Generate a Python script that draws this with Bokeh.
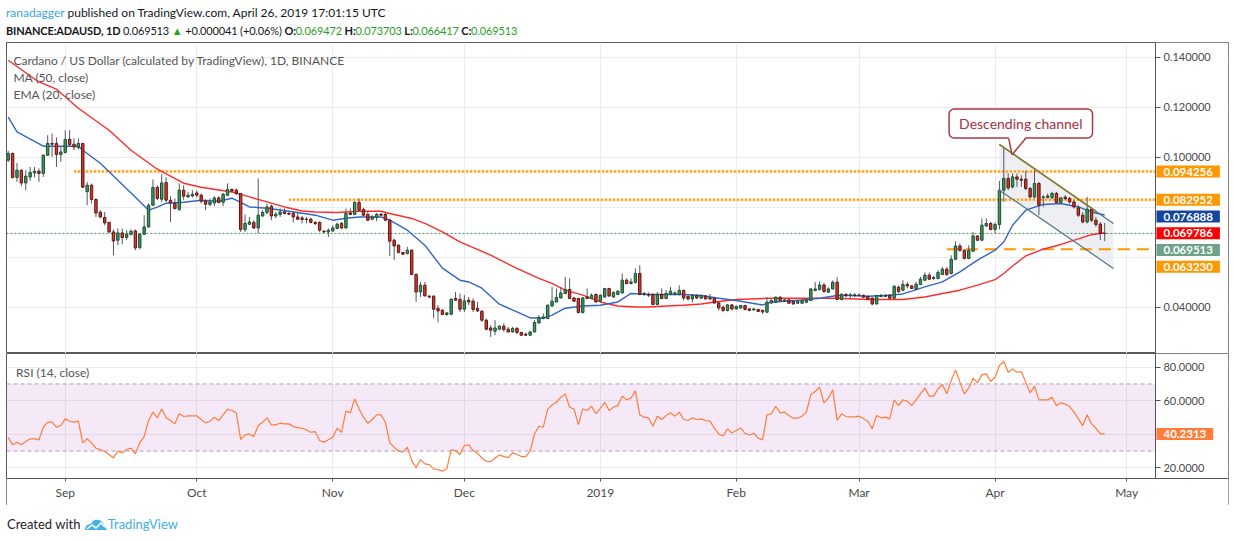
import pandas as pd
from bokeh.plotting import figure
from bokeh.layouts import column
from bokeh.models import (ColumnDataSource, Range1d, FixedTicker, PrintfTickFormatter,
                          BoxAnnotation, Label, Div)
from bokeh.embed import file_html
from bokeh.resources import INLINE

# ---- daily candles, BINANCE ADA/USD, starting 2018-08-19 ----
start_date = "2018-08-19"
opens = [
    0.0988, 0.1015, 0.0919, 0.0948, 0.0897, 0.0921, 0.0937, 0.0944, 0.0935, 0.1008,
    0.1055, 0.1055, 0.1011, 0.1019, 0.1072, 0.1052, 0.1039, 0.1055, 0.0862, 0.0888,
    0.0831, 0.0780, 0.0759, 0.0739, 0.0701, 0.0668, 0.0697, 0.0679, 0.0691, 0.0705,
    0.0639, 0.0692, 0.0721, 0.0808, 0.0879, 0.0832, 0.0899, 0.0828, 0.0815, 0.0791,
    0.0868, 0.0841, 0.0845, 0.0857, 0.0848, 0.0825, 0.0811, 0.0817, 0.0837, 0.0820,
    0.0848, 0.0871, 0.0868, 0.0855, 0.0711, 0.0732, 0.0739, 0.0717, 0.0765, 0.0779,
    0.0804, 0.0765, 0.0771, 0.0781, 0.0775, 0.0775, 0.0761, 0.0757, 0.0752, 0.0752,
    0.0739, 0.0739, 0.0704, 0.0701, 0.0705, 0.0715, 0.0735, 0.0717, 0.0777, 0.0771,
    0.0819, 0.0791, 0.0771, 0.0752, 0.0759, 0.0772, 0.0771, 0.0748, 0.0668, 0.0648,
    0.0619, 0.0615, 0.0628, 0.0531, 0.0461, 0.0488, 0.0444, 0.0444, 0.0395, 0.0388,
    0.0371, 0.0372, 0.0435, 0.0431, 0.0392, 0.0428, 0.0424, 0.0395, 0.0384, 0.0348,
    0.0317, 0.0304, 0.0312, 0.0324, 0.0312, 0.0301, 0.0315, 0.0299, 0.0292, 0.0288,
    0.0301, 0.0337, 0.0355, 0.0355, 0.0405, 0.0421, 0.0437, 0.0455, 0.0471, 0.0437,
    0.0435, 0.0379, 0.0441, 0.0435, 0.0451, 0.0424, 0.0441, 0.0475, 0.0441, 0.0451,
    0.0457, 0.0508, 0.0495, 0.0499, 0.0535, 0.0451, 0.0451, 0.0451, 0.0411, 0.0451,
    0.0435, 0.0451, 0.0452, 0.0451, 0.0467, 0.0443, 0.0433, 0.0447, 0.0436, 0.0445,
    0.0437, 0.0436, 0.0417, 0.0400, 0.0387, 0.0409, 0.0393, 0.0397, 0.0407, 0.0393,
    0.0389, 0.0391, 0.0387, 0.0380, 0.0417, 0.0420, 0.0440, 0.0425, 0.0429, 0.0423,
    0.0416, 0.0416, 0.0420, 0.0427, 0.0467, 0.0471, 0.0489, 0.0460, 0.0473, 0.0500,
    0.0431, 0.0451, 0.0447, 0.0449, 0.0447, 0.0447, 0.0443, 0.0436, 0.0413, 0.0443,
    0.0443, 0.0447, 0.0436, 0.0480, 0.0468, 0.0491, 0.0485, 0.0472, 0.0491, 0.0508,
    0.0528, 0.0515, 0.0515, 0.0531, 0.0552, 0.0535, 0.0592, 0.0645, 0.0628, 0.0595,
    0.0624, 0.0685, 0.0668, 0.0725, 0.0735, 0.0711, 0.0731, 0.0868, 0.0915, 0.0881,
    0.0921, 0.0912, 0.0912, 0.0875, 0.0841, 0.0895, 0.0839, 0.0839, 0.0839, 0.0855,
    0.0819, 0.0840, 0.0835, 0.0821, 0.0797, 0.0768, 0.0741, 0.0792, 0.0748, 0.0732, 0.069472,
]
highs = [
    0.1025, 0.1018, 0.0977, 0.0951, 0.0948, 0.0961, 0.0961, 0.0955, 0.1011, 0.1088,
    0.1095, 0.1079, 0.1044, 0.1108, 0.1108, 0.1075, 0.1075, 0.1057, 0.0901, 0.0895,
    0.0835, 0.0788, 0.0781, 0.0741, 0.0711, 0.0715, 0.0715, 0.0708, 0.0711, 0.0711,
    0.0695, 0.0768, 0.0815, 0.0911, 0.0888, 0.0932, 0.0919, 0.0844, 0.0835, 0.0895,
    0.0888, 0.0861, 0.0868, 0.0868, 0.0855, 0.0831, 0.0835, 0.0844, 0.0844, 0.0857,
    0.0895, 0.0875, 0.0875, 0.0857, 0.0771, 0.0761, 0.0748, 0.0915, 0.0788, 0.0815,
    0.0811, 0.0781, 0.0795, 0.0795, 0.0781, 0.0784, 0.0781, 0.0765, 0.0761, 0.0757,
    0.0744, 0.0744, 0.0708, 0.0715, 0.0728, 0.0739, 0.0741, 0.0795, 0.0795, 0.0824,
    0.0835, 0.0797, 0.0781, 0.0768, 0.0777, 0.0777, 0.0779, 0.0755, 0.0675, 0.0651,
    0.0621, 0.0641, 0.0631, 0.0535, 0.0501, 0.0501, 0.0448, 0.0448, 0.0408, 0.0392,
    0.0381, 0.0435, 0.0461, 0.0455, 0.0448, 0.0441, 0.0435, 0.0421, 0.0388, 0.0355,
    0.0328, 0.0348, 0.0328, 0.0335, 0.0321, 0.0321, 0.0321, 0.0301, 0.0299, 0.0304,
    0.0348, 0.0368, 0.0375, 0.0411, 0.0481, 0.0475, 0.0481, 0.0521, 0.0515, 0.0441,
    0.0437, 0.0441, 0.0475, 0.0455, 0.0455, 0.0451, 0.0477, 0.0477, 0.0464, 0.0468,
    0.0535, 0.0515, 0.0515, 0.0555, 0.0568, 0.0461, 0.0459, 0.0455, 0.0461, 0.0475,
    0.0468, 0.0481, 0.0464, 0.0487, 0.0471, 0.0447, 0.0453, 0.0451, 0.0451, 0.0447,
    0.0453, 0.0440, 0.0420, 0.0407, 0.0413, 0.0413, 0.0407, 0.0409, 0.0409, 0.0396,
    0.0396, 0.0393, 0.0391, 0.0440, 0.0431, 0.0443, 0.0443, 0.0433, 0.0433, 0.0427,
    0.0427, 0.0431, 0.0433, 0.0476, 0.0500, 0.0503, 0.0497, 0.0480, 0.0507, 0.0520,
    0.0457, 0.0457, 0.0457, 0.0457, 0.0455, 0.0451, 0.0447, 0.0440, 0.0449, 0.0453,
    0.0453, 0.0453, 0.0487, 0.0487, 0.0508, 0.0501, 0.0488, 0.0501, 0.0521, 0.0539,
    0.0539, 0.0525, 0.0548, 0.0561, 0.0561, 0.0608, 0.0664, 0.0655, 0.0631, 0.0648,
    0.0701, 0.0688, 0.0755, 0.0755, 0.0741, 0.0739, 0.0905, 0.1041, 0.0935, 0.0935,
    0.0935, 0.0928, 0.0944, 0.0881, 0.0955, 0.0901, 0.0848, 0.0855, 0.0861, 0.0861,
    0.0841, 0.0848, 0.0841, 0.0828, 0.0808, 0.0781, 0.0841, 0.0797, 0.0761, 0.0741, 0.073703,
]
lows = [
    0.0980, 0.0915, 0.0901, 0.0884, 0.0868, 0.0905, 0.0919, 0.0901, 0.0921, 0.1004,
    0.1001, 0.0961, 0.0981, 0.1015, 0.1044, 0.1028, 0.1031, 0.0878, 0.0808, 0.0815,
    0.0761, 0.0755, 0.0728, 0.0697, 0.0608, 0.0648, 0.0652, 0.0668, 0.0687, 0.0628,
    0.0631, 0.0688, 0.0719, 0.0805, 0.0828, 0.0821, 0.0821, 0.0741, 0.0791, 0.0785,
    0.0828, 0.0839, 0.0839, 0.0839, 0.0815, 0.0788, 0.0804, 0.0804, 0.0815, 0.0804,
    0.0844, 0.0861, 0.0848, 0.0701, 0.0701, 0.0728, 0.0712, 0.0695, 0.0761, 0.0771,
    0.0748, 0.0755, 0.0761, 0.0771, 0.0768, 0.0739, 0.0748, 0.0735, 0.0735, 0.0735,
    0.0728, 0.0701, 0.0697, 0.0681, 0.0701, 0.0712, 0.0712, 0.0715, 0.0768, 0.0768,
    0.0784, 0.0765, 0.0744, 0.0748, 0.0744, 0.0764, 0.0744, 0.0605, 0.0588, 0.0615,
    0.0608, 0.0611, 0.0528, 0.0421, 0.0441, 0.0444, 0.0435, 0.0355, 0.0339, 0.0368,
    0.0365, 0.0368, 0.0425, 0.0381, 0.0381, 0.0408, 0.0381, 0.0381, 0.0341, 0.0308,
    0.0281, 0.0288, 0.0308, 0.0301, 0.0299, 0.0299, 0.0292, 0.0285, 0.0285, 0.0285,
    0.0299, 0.0335, 0.0352, 0.0352, 0.0401, 0.0419, 0.0435, 0.0451, 0.0432, 0.0421,
    0.0375, 0.0375, 0.0432, 0.0432, 0.0419, 0.0421, 0.0437, 0.0441, 0.0437, 0.0448,
    0.0455, 0.0491, 0.0491, 0.0495, 0.0448, 0.0445, 0.0441, 0.0408, 0.0408, 0.0432,
    0.0432, 0.0448, 0.0447, 0.0447, 0.0427, 0.0427, 0.0420, 0.0433, 0.0433, 0.0431,
    0.0429, 0.0413, 0.0387, 0.0380, 0.0383, 0.0387, 0.0391, 0.0393, 0.0387, 0.0384,
    0.0387, 0.0380, 0.0373, 0.0377, 0.0413, 0.0417, 0.0424, 0.0423, 0.0413, 0.0411,
    0.0413, 0.0413, 0.0416, 0.0425, 0.0463, 0.0467, 0.0457, 0.0457, 0.0471, 0.0427,
    0.0427, 0.0440, 0.0433, 0.0440, 0.0443, 0.0436, 0.0431, 0.0407, 0.0411, 0.0440,
    0.0440, 0.0431, 0.0433, 0.0457, 0.0464, 0.0475, 0.0472, 0.0468, 0.0488, 0.0504,
    0.0508, 0.0508, 0.0511, 0.0528, 0.0525, 0.0531, 0.0588, 0.0621, 0.0592, 0.0592,
    0.0621, 0.0664, 0.0664, 0.0721, 0.0708, 0.0695, 0.0711, 0.0821, 0.0868, 0.0875,
    0.0881, 0.0881, 0.0868, 0.0835, 0.0835, 0.0768, 0.0801, 0.0835, 0.0832, 0.0815,
    0.0815, 0.0828, 0.0815, 0.0795, 0.0761, 0.0735, 0.0735, 0.0741, 0.0721, 0.0668, 0.066417,
]
closes = [
    0.1015, 0.0919, 0.0948, 0.0897, 0.0924, 0.0939, 0.0944, 0.0935, 0.1008, 0.1055,
    0.1052, 0.1011, 0.1021, 0.1071, 0.1051, 0.1041, 0.1055, 0.0880, 0.0888, 0.0831,
    0.0777, 0.0761, 0.0737, 0.0701, 0.0665, 0.0697, 0.0679, 0.0692, 0.0704, 0.0637,
    0.0692, 0.0721, 0.0808, 0.0879, 0.0835, 0.0897, 0.0828, 0.0817, 0.0795, 0.0868,
    0.0844, 0.0848, 0.0852, 0.0848, 0.0824, 0.0812, 0.0821, 0.0837, 0.0819, 0.0852,
    0.0871, 0.0865, 0.0855, 0.0711, 0.0735, 0.0741, 0.0717, 0.0768, 0.0779, 0.0801,
    0.0765, 0.0772, 0.0781, 0.0775, 0.0772, 0.0761, 0.0752, 0.0751, 0.0751, 0.0739,
    0.0735, 0.0708, 0.0701, 0.0708, 0.0717, 0.0732, 0.0717, 0.0775, 0.0771, 0.0819,
    0.0788, 0.0768, 0.0748, 0.0761, 0.0771, 0.0768, 0.0748, 0.0664, 0.0645, 0.0619,
    0.0612, 0.0628, 0.0531, 0.0461, 0.0488, 0.0445, 0.0441, 0.0392, 0.0385, 0.0371,
    0.0377, 0.0432, 0.0428, 0.0392, 0.0425, 0.0421, 0.0391, 0.0385, 0.0348, 0.0312,
    0.0308, 0.0317, 0.0324, 0.0311, 0.0301, 0.0315, 0.0299, 0.0288, 0.0288, 0.0301,
    0.0339, 0.0359, 0.0361, 0.0408, 0.0424, 0.0439, 0.0457, 0.0471, 0.0435, 0.0424,
    0.0379, 0.0437, 0.0435, 0.0448, 0.0421, 0.0448, 0.0475, 0.0445, 0.0459, 0.0464,
    0.0508, 0.0495, 0.0501, 0.0535, 0.0451, 0.0455, 0.0448, 0.0411, 0.0451, 0.0435,
    0.0455, 0.0464, 0.0457, 0.0467, 0.0437, 0.0433, 0.0447, 0.0437, 0.0447, 0.0433,
    0.0433, 0.0417, 0.0397, 0.0387, 0.0409, 0.0393, 0.0403, 0.0407, 0.0391, 0.0387,
    0.0393, 0.0383, 0.0381, 0.0420, 0.0427, 0.0440, 0.0427, 0.0429, 0.0416, 0.0413,
    0.0423, 0.0427, 0.0429, 0.0473, 0.0473, 0.0489, 0.0463, 0.0473, 0.0500, 0.0431,
    0.0451, 0.0447, 0.0449, 0.0447, 0.0449, 0.0440, 0.0433, 0.0413, 0.0447, 0.0447,
    0.0447, 0.0436, 0.0484, 0.0463, 0.0491, 0.0485, 0.0475, 0.0492, 0.0512, 0.0528,
    0.0512, 0.0519, 0.0539, 0.0552, 0.0531, 0.0592, 0.0645, 0.0628, 0.0595, 0.0627,
    0.0685, 0.0668, 0.0728, 0.0735, 0.0711, 0.0731, 0.0868, 0.0915, 0.0877, 0.0921,
    0.0912, 0.0908, 0.0875, 0.0841, 0.0895, 0.0808, 0.0841, 0.0845, 0.0855, 0.0819,
    0.0837, 0.0835, 0.0821, 0.0801, 0.0768, 0.0741, 0.0792, 0.0748, 0.0731, 0.0695, 0.069513,
]

# RSI (14, close), one value per candle
rsi_values = [
    38.2, 33.7, 35.3, 33.7, 35.7, 37.3, 37.3, 36.7, 44.2, 47.2,
    47.2, 44.2, 45.2, 49.2, 47.6, 47.2, 47.8, 34.9, 37.3, 34.9,
    31.7, 30.9, 29.7, 27.9, 25.9, 29.9, 28.9, 30.9, 31.7, 28.3,
    34.9, 38.6, 48.2, 53.2, 49.8, 55.1, 49.8, 48.2, 46.2, 52.2,
    50.6, 51.0, 51.0, 51.0, 48.8, 46.8, 47.8, 50.2, 48.2, 51.6,
    54.8, 54.2, 52.8, 36.9, 39.6, 40.2, 38.6, 45.2, 47.2, 49.8,
    45.6, 45.6, 46.6, 46.2, 46.2, 44.6, 44.0, 43.6, 42.6, 41.2,
    41.6, 36.3, 35.3, 36.7, 38.2, 43.6, 41.2, 53.8, 52.8, 61.1,
    55.1, 50.2, 46.6, 48.8, 51.6, 51.6, 47.2, 34.9, 32.3, 29.9,
    29.3, 32.3, 24.3, 20.0, 24.9, 22.3, 21.9, 19.4, 19.0, 18.0,
    19.4, 30.7, 30.3, 27.9, 33.3, 33.7, 30.3, 28.7, 25.9, 23.9,
    23.7, 25.7, 27.7, 26.7, 26.1, 28.9, 27.9, 26.7, 26.7, 29.9,
    40.2, 44.8, 44.2, 54.8, 57.5, 59.1, 62.1, 64.1, 56.1, 55.1,
    45.8, 55.1, 54.2, 56.7, 52.2, 55.5, 59.1, 54.2, 56.1, 57.1,
    62.7, 60.5, 61.5, 65.9, 51.6, 50.2, 49.8, 44.8, 50.8, 48.8,
    51.2, 52.8, 50.8, 53.2, 48.8, 48.2, 49.8, 48.8, 49.2, 48.2,
    47.8, 43.6, 40.2, 39.0, 43.2, 40.8, 42.2, 43.8, 40.6, 39.6,
    40.6, 37.7, 36.7, 51.6, 52.2, 56.7, 52.8, 53.2, 51.2, 49.6,
    49.6, 50.8, 53.2, 63.7, 65.5, 68.1, 58.7, 61.5, 66.5, 48.2,
    52.2, 50.6, 50.4, 50.4, 50.8, 49.2, 47.8, 43.2, 51.2, 49.8,
    50.2, 49.2, 60.5, 57.1, 60.5, 59.7, 57.1, 60.5, 64.1, 67.5,
    62.7, 62.7, 67.1, 69.7, 64.1, 72.0, 78.4, 71.1, 64.1, 67.5,
    73.4, 70.7, 75.4, 76.0, 71.5, 74.0, 81.0, 83.4, 77.0, 79.0,
    77.0, 77.4, 71.1, 64.7, 68.7, 60.5, 60.5, 60.5, 62.1, 57.1,
    58.7, 58.1, 56.5, 53.2, 49.2, 45.2, 51.6, 46.2, 43.6, 40.2, 40.2313,
]

# moving averages
ma50_dates = [
    "2018-08-19", "2018-08-26", "2018-08-30", "2018-09-04", "2018-09-11", "2018-09-16",
    "2018-09-22", "2018-09-28", "2018-10-02", "2018-10-09", "2018-10-13", "2018-10-17",
    "2018-10-21", "2018-10-25", "2018-10-28", "2018-11-02", "2018-11-07", "2018-11-12",
    "2018-11-14", "2018-11-19", "2018-11-22", "2018-11-26", "2018-11-30", "2018-12-07",
    "2018-12-13", "2018-12-18", "2018-12-21", "2018-12-24", "2018-12-28", "2019-01-01",
    "2019-01-05", "2019-01-09", "2019-01-12", "2019-01-16", "2019-01-20", "2019-01-24",
    "2019-01-28", "2019-02-01", "2019-02-09", "2019-02-24", "2019-03-03", "2019-03-11",
    "2019-03-16", "2019-03-20", "2019-03-24", "2019-03-28", "2019-04-01", "2019-04-03",
    "2019-04-05", "2019-04-08", "2019-04-12", "2019-04-16", "2019-04-20", "2019-04-23",
    "2019-04-26",
]
ma50_values = [
    0.1388, 0.1301, 0.1272, 0.1196, 0.1108, 0.1028,
    0.0952, 0.0896, 0.0880, 0.0861, 0.0841, 0.0821,
    0.0801, 0.0785, 0.0781, 0.0779, 0.0784, 0.0784,
    0.0775, 0.0755, 0.0735, 0.0701, 0.0661, 0.0608,
    0.0555, 0.0515, 0.0495, 0.0468, 0.0448, 0.0421,
    0.0405, 0.0401, 0.0401, 0.0405, 0.0408, 0.0413,
    0.0423, 0.0431, 0.0436, 0.0436, 0.0431, 0.0431,
    0.0441, 0.0455, 0.0468, 0.0488, 0.0510, 0.0535,
    0.0565, 0.0605, 0.0632, 0.0651, 0.0673, 0.0690,
    0.069786,
]
ema20_dates = [
    "2018-08-19", "2018-08-21", "2018-08-27", "2018-08-31", "2018-09-04", "2018-09-05",
    "2018-09-09", "2018-09-13", "2018-09-17", "2018-09-20", "2018-09-22", "2018-09-24",
    "2018-09-28", "2018-10-02", "2018-10-06", "2018-10-09", "2018-10-11", "2018-10-13",
    "2018-10-17", "2018-10-22", "2018-10-28", "2018-11-01", "2018-11-04", "2018-11-07",
    "2018-11-12", "2018-11-14", "2018-11-18", "2018-11-22", "2018-11-26", "2018-11-30",
    "2018-12-02", "2018-12-05", "2018-12-09", "2018-12-13", "2018-12-16", "2018-12-19",
    "2018-12-21", "2018-12-24", "2018-12-28", "2019-01-01", "2019-01-05", "2019-01-08",
    "2019-01-12", "2019-01-20", "2019-01-24", "2019-01-28", "2019-02-01", "2019-02-07",
    "2019-02-09", "2019-02-16", "2019-02-20", "2019-02-24", "2019-02-27", "2019-03-03",
    "2019-03-07", "2019-03-11", "2019-03-13", "2019-03-16", "2019-03-20", "2019-03-24",
    "2019-03-28", "2019-04-01", "2019-04-03", "2019-04-05", "2019-04-08", "2019-04-12",
    "2019-04-16", "2019-04-20", "2019-04-23", "2019-04-26",
]
ema20_values = [
    0.1160, 0.1101, 0.1044, 0.1044, 0.1044, 0.1028,
    0.0976, 0.0908, 0.0840, 0.0788, 0.0800, 0.0816,
    0.0820, 0.0828, 0.0824, 0.0836, 0.0819, 0.0801,
    0.0796, 0.0784, 0.0768, 0.0748, 0.0756, 0.0761,
    0.0761, 0.0748, 0.0708, 0.0648, 0.0556, 0.0508,
    0.0501, 0.0476, 0.0412, 0.0381, 0.0357, 0.0357,
    0.0368, 0.0396, 0.0405, 0.0408, 0.0421, 0.0455,
    0.0451, 0.0451, 0.0447, 0.0436, 0.0427, 0.0409,
    0.0420, 0.0429, 0.0436, 0.0447, 0.0447, 0.0444,
    0.0447, 0.0453, 0.0464, 0.0481, 0.0501, 0.0541,
    0.0588, 0.0628, 0.0661, 0.0728, 0.0788, 0.0811,
    0.0815, 0.0801, 0.0781, 0.076888,
]

month_ticks = ["2018-09-01", "2018-10-01", "2018-11-01", "2018-12-01", "2019-01-01",
               "2019-02-01", "2019-03-01", "2019-04-01", "2019-05-01"]
month_labels = ["Sep", "Oct", "Nov", "Dec", "2019", "Feb", "Mar", "Apr", "May"]
price_ticks = [0.04, 0.10, 0.12, 0.14]
price_grid = [0.04, 0.06, 0.08, 0.10, 0.12, 0.14]
rsi_ticks = [20, 60, 80]
rsi_grid = [20, 40, 60, 80]
rsi_band = (30, 70)

# drawings on the chart
dotted_levels = [0.094256, 0.082952]
dotted_from = ["2018-09-03", "2018-10-22"]
dashed_level = 0.063230
dashed_from = "2019-03-21"
channel_dates = ["2019-04-02", "2019-04-28"]
channel_upper = [0.1051, 0.0735]
channel_lower = [0.0868, 0.0555]
trend_dates = ["2019-04-02", "2019-04-24"]
trend_values = [0.1051, 0.0784]
callout_text = "Descending channel"
callout_at = ("2019-04-06 21:00", 0.1135)
pointer_dates = ["2019-04-04 03:00", "2019-04-07 22:00", "2019-04-04 21:00"]
pointer_values = [0.1081, 0.1081, 0.1010]
pointer_base = 0.1074

# ---- layout constants ----
W = 1234
FONT = "Lato"
t0 = pd.Timestamp(start_date)
x_start = t0 - pd.Timedelta(days=0.39)
x_axis_pos = t0 + pd.Timedelta(days=261.58)   # where the price scale sits
x_end = t0 + pd.Timedelta(days=278.23)
axis_ms = float(x_axis_pos.value // 10**6)
month_ms = [pd.Timestamp(m).value // 10**6 for m in month_ticks]
DAY = 24 * 3600 * 1000
time_axis_at = 13.8   # RSI value where the time axis line sits

dates = pd.date_range(start_date, periods=len(closes), freq="D")
df = pd.DataFrame(dict(date=dates, open=opens, high=highs, low=lows, close=closes))
up = df[df.close >= df.open]
dn = df[df.close < df.open]


def style_axis(ax, size="11px", tick_out=5):
    ax.axis_line_color = "#555555"
    ax.major_tick_line_color = "#555555"
    ax.minor_tick_line_color = None
    ax.major_tick_in = 0
    ax.major_tick_out = tick_out
    ax.major_label_text_font = FONT
    ax.major_label_text_font_size = size
    ax.major_label_text_color = "#4a4a4a"
    ax.major_label_standoff = 3


def tag(fig, y, text, color):
    fig.add_layout(Label(x=x_axis_pos, y=y, text=text, text_color="white", text_font=FONT,
                         text_font_size="11.5px", text_font_style="bold",
                         text_align="left", text_baseline="middle",
                         background_fill_color=color, padding=(7, 2), x_offset=1))


def white_out(fig, **kw):
    fig.add_layout(BoxAnnotation(fill_color="white", fill_alpha=1, line_alpha=0,
                                 level="underlay", **kw))


# ---- price pane ----
price = figure(width=W, height=311, x_axis_type="datetime", x_axis_location=None,
               y_axis_location="right", x_range=Range1d(x_start, x_end),
               y_range=Range1d(0.02148, 0.14588), output_backend="svg",
               toolbar_location=None, min_border_left=6, min_border_right=6,
               min_border_top=0, min_border_bottom=0)
price.outline_line_color = "#5a5a5a"
price.xgrid.ticker = FixedTicker(ticks=month_ms)
price.ygrid.ticker = FixedTicker(ticks=price_grid)
price.grid.grid_line_color = "#ebebeb"
price.yaxis.ticker = FixedTicker(ticks=price_ticks)
price.yaxis.formatter = PrintfTickFormatter(format="%.6f")
price.yaxis.fixed_location = axis_ms
style_axis(price.yaxis[0])
white_out(price, left=x_axis_pos)

price.patch(x=[pd.Timestamp(channel_dates[0]), pd.Timestamp(channel_dates[1]),
               pd.Timestamp(channel_dates[1]), pd.Timestamp(channel_dates[0])],
            y=[channel_upper[0], channel_upper[1], channel_lower[1], channel_lower[0]],
            fill_color="#e1e5ea", fill_alpha=0.6, line_color=None)

for lvl, frm in zip(dotted_levels, dotted_from):
    price.segment(x0=[pd.Timestamp(frm)], y0=[lvl], x1=[x_axis_pos], y1=[lvl],
                  line_color="#ffcf99", line_width=3.5, line_alpha=0.5)
    price.segment(x0=[pd.Timestamp(frm)], y0=[lvl], x1=[x_axis_pos], y1=[lvl],
                  line_color="#ff9800", line_width=2, line_dash="2 2")
price.segment(x0=[pd.Timestamp(dashed_from)], y0=[dashed_level], x1=[x_axis_pos],
              y1=[dashed_level], line_color="#ff9800", line_width=2, line_dash="12 7")
price.segment(x0=[x_start], y0=[closes[-1]], x1=[x_axis_pos], y1=[closes[-1]],
              line_color="#3f8f60", line_dash="2 2", line_width=1)

price.line(pd.to_datetime(ma50_dates), ma50_values, color="#ff2b2b", line_width=1.4)
price.line(pd.to_datetime(ema20_dates), ema20_values, color="#3266c6", line_width=1.4)

src = ColumnDataSource(df)
price.segment(x0="date", y0="high", x1="date", y1="low", source=src,
              line_color="#55585c", line_width=1)
price.vbar(x="date", width=0.55 * DAY, top="close", bottom="open",
           source=ColumnDataSource(up), fill_color="#3c9662", line_color="#1f4d33")
price.vbar(x="date", width=0.55 * DAY, top="open", bottom="close",
           source=ColumnDataSource(dn), fill_color="#d03a2e", line_color="#5e1512")

price.segment(x0=[pd.Timestamp(channel_dates[0])] * 2, y0=[channel_upper[0], channel_lower[0]],
              x1=[pd.Timestamp(channel_dates[1])] * 2, y1=[channel_upper[1], channel_lower[1]],
              line_color="#4d7682", line_width=1.2)
price.line(pd.to_datetime(trend_dates), trend_values, color="#8f7d2e", line_width=1.6)

price.add_layout(Label(x=pd.Timestamp(callout_at[0]), y=callout_at[1], text=callout_text,
                       text_align="center", text_baseline="middle", text_color="#a3323c",
                       text_font=FONT, text_font_size="14px",
                       background_fill_color="white", border_line_color="#a83a44",
                       border_line_width=1.5, border_radius=5, padding=(10, 6)))
ptr = price.patch(x=pd.to_datetime(pointer_dates), y=pointer_values,
                  fill_color="white", line_color=None)
ptr.level = "overlay"
ptr_edges = price.multi_line(
    xs=[[pd.Timestamp(pointer_dates[0]), pd.Timestamp(pointer_dates[2])],
        [pd.Timestamp(pointer_dates[1]), pd.Timestamp(pointer_dates[2])]],
    ys=[[pointer_base, pointer_values[2]], [pointer_base, pointer_values[2]]],
    line_color="#a83a44", line_width=1.5)
ptr_edges.level = "overlay"

legend_x = t0 + pd.Timedelta(days=1.2)
for txt, yv in zip(["Cardano / US Dollar (calculated by TradingView), 1D, BINANCE",
                    "MA (50, close)", "EMA (20, close)"], [0.13868, 0.13188, 0.12508]):
    price.add_layout(Label(x=legend_x, y=yv, text=txt, text_font=FONT, text_font_size="12px",
                           text_color="#555555", text_baseline="middle"))

tag_specs = [(0.094256, "#ff9800"), (0.082952, "#ff9800"), (0.076888, "#1446a0"),
             (0.069786, "#ff0000"), (0.069513, "#6da287"), (0.063230, "#ff9800")]
tag_h = 0.0067
prev = None
for v, c in sorted(tag_specs, key=lambda t: -t[0]):
    y = v if prev is None or prev - v >= tag_h else prev - tag_h
    tag(price, y, "%.6f" % v, c)
    prev = y

# ---- RSI pane ----
rsi = figure(width=W, height=152, x_axis_type="datetime", y_axis_location="right",
             x_range=price.x_range, y_range=Range1d(-2.48, 88.17), output_backend="svg",
             toolbar_location=None, min_border_left=6, min_border_right=6,
             min_border_top=0, min_border_bottom=0)
rsi.outline_line_color = "#5a5a5a"
rsi.xgrid.ticker = FixedTicker(ticks=month_ms)
rsi.ygrid.ticker = FixedTicker(ticks=rsi_grid)
rsi.grid.grid_line_color = "#ebebeb"
rsi.yaxis.ticker = FixedTicker(ticks=rsi_ticks)
rsi.yaxis.formatter = PrintfTickFormatter(format="%.4f")
rsi.yaxis.fixed_location = axis_ms
rsi.yaxis.bounds = (time_axis_at, 88.17)
style_axis(rsi.yaxis[0])
rsi.xaxis.ticker = FixedTicker(ticks=month_ms)
rsi.xaxis.major_label_overrides = {m: lab for m, lab in zip(month_ms, month_labels)}
rsi.xaxis.fixed_location = time_axis_at
style_axis(rsi.xaxis[0], "12px", tick_out=3)
rsi.xaxis.major_label_standoff = 4

rsi.add_layout(BoxAnnotation(bottom=rsi_band[0], top=rsi_band[1], right=x_axis_pos,
                             fill_color="#9c27b0", fill_alpha=0.1, line_alpha=0,
                             level="underlay"))
white_out(rsi, left=x_axis_pos)
white_out(rsi, top=time_axis_at)
for lvl in rsi_band:
    rsi.segment(x0=[x_start], y0=[lvl], x1=[x_axis_pos], y1=[lvl], line_color="#a99cb4",
                line_dash="4 3", line_width=1)
rsi.line(dates, rsi_values, color="#ff7c3a", line_width=1.2)
rsi.add_layout(Label(x=t0 + pd.Timedelta(days=1.8), y=77.0, text="RSI (14, close)",
                     text_font=FONT, text_font_size="12px", text_color="#555555",
                     text_baseline="middle"))
tag(rsi, rsi_values[-1], "%.4f" % rsi_values[-1], "#ff7c3a")

# ---- header / footer ----
G = "color:#1fa01f"
header = Div(width=W, height=42, margin=(0, 0, 0, 0), text=(
    '<div style="font-family:Lato;font-size:12px;line-height:18px;color:#131722;'
    'white-space:nowrap;padding:4px 0 0 6px;">'
    '<span style="color:#3ba7e0">ranadagger</span> published on TradingView.com, '
    'April 26, 2019 17:01:15 UTC<br>'
    '<span style="font-size:11px;letter-spacing:-0.15px">'
    '<b>BINANCE:ADAUSD, 1D</b> 0.069513 <span style="%s">&#9650;</span> '
    '+0.000041 (+0.06%%) <b>O:</b><span style="%s">0.069472</span> '
    '<b>H:</b><span style="%s">0.073703</span> <b>L:</b><span style="%s">0.066417</span> '
    '<b>C:</b><span style="%s">0.069513</span></span></div>') % (G, G, G, G, G))

logo = ('<svg width="24" height="14" viewBox="0 0 24 14" style="vertical-align:-2px">'
        '<path d="M1 13 C1 9 4 7 7 7 C8 4 11 2 14 3 C17 3 19 5 20 8 L23 13 Z" fill="#45b2e6"/>'
        '<path d="M3 12 L8 8 L12 11 L17 6 L21 10" stroke="white" stroke-width="1.6" fill="none"/>'
        '</svg>')
footer = Div(width=W, height=30, margin=(0, 0, 0, 0), text=(
    '<div style="font-family:Lato;font-size:13px;line-height:20px;color:#1e1e1e;'
    'white-space:nowrap;padding:9px 0 0 7px;">Created with %s'
    '<span style="color:#3eaee6">TradingView</span></div>') % logo)

layout = column(header, price, rsi, footer, spacing=0)
open("out.html", "w").write(file_html(layout, INLINE))
